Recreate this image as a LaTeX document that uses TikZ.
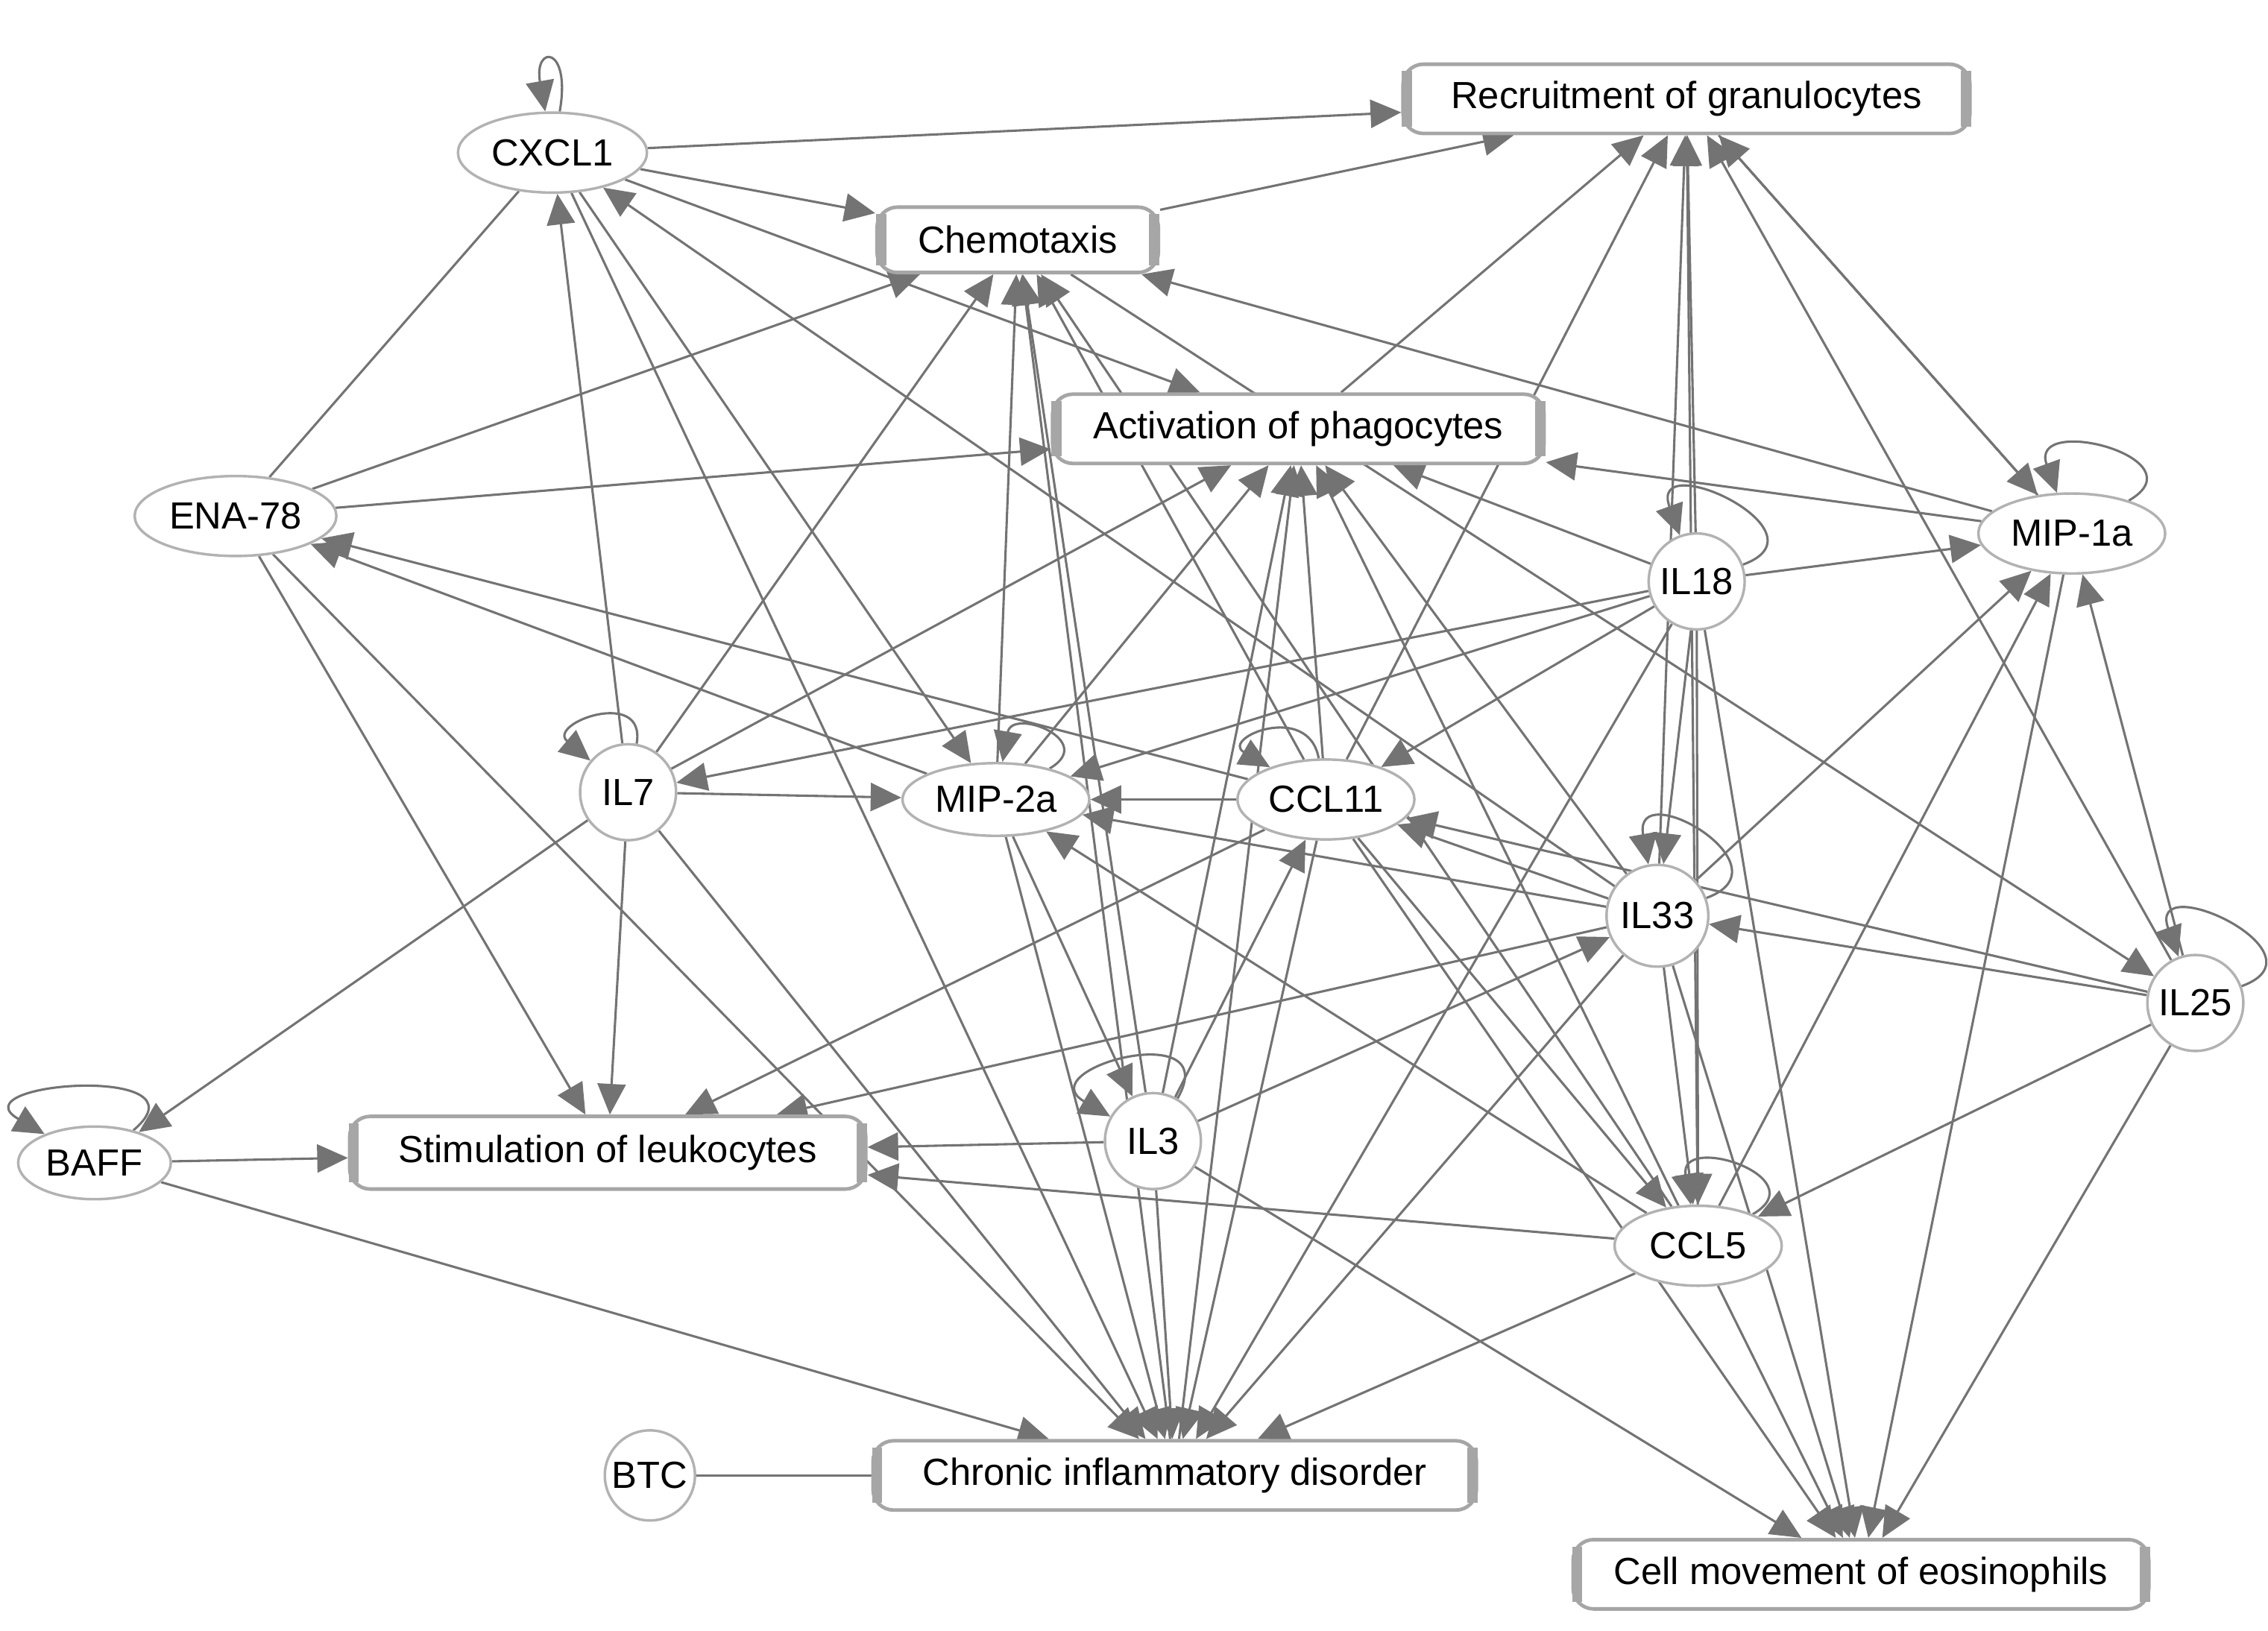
\documentclass[tikz,border=0pt]{standalone}
\usepackage{fontspec}
\setmainfont{Liberation Sans}
\usetikzlibrary{shapes.geometric,arrows.meta,calc}
\pgfdeclarelayer{back}
\pgfdeclarelayer{bg}
\pgfsetlayers{back,bg,main}
\begin{document}
\begin{tikzpicture}[
  every node/.style={font=\fontsize{7.4}{8}\selectfont},
  mol/.style={ellipse,draw=gray!60,line width=0.5pt,fill=white,inner sep=1pt},
  circ/.style={circle,draw=gray!60,line width=0.5pt,fill=white,minimum size=0.66cm,inner sep=0pt},
  fn/.style={rectangle,rounded corners=4pt,draw=gray!70,line width=0.7pt,fill=white,minimum height=0.45cm,inner xsep=8pt},
  ar/.style={draw=gray!90!black,line width=0.45pt,-{Triangle[length=6pt,width=5.5pt]},fill=gray!90!black},
  ln/.style={draw=gray!90!black,line width=0.45pt},
  lp/.style={ar}]
\begin{pgfonlayer}{back}
\fill[white] (0,0) rectangle (15.6,11.22);
\end{pgfonlayer}
\useasboundingbox (0,0) rectangle (15.6,11.22);
\node[mol,minimum width=1.3cm,minimum height=0.55cm] (CXCL1) at (3.80,10.17) {CXCL1};
\node[fn,minimum width=3.9cm] (Rec) at (11.60,10.54) {Recruitment of granulocytes};
\node[fn,minimum width=1.7cm] (Chem) at (7.00,9.57) {Chemotaxis};
\node[fn,minimum width=3.3cm] (Act) at (8.93,8.27) {Activation of phagocytes};
\node[mol,minimum width=1.25cm,minimum height=0.55cm] (ENA) at (1.62,7.67) {ENA-78};
\node[mol,minimum width=1.25cm,minimum height=0.55cm] (MIP1a) at (14.25,7.55) {MIP-1a};
\node[circ] (IL18) at (11.67,7.22) {IL18};
\node[circ] (IL7) at (4.32,5.77) {IL7};
\node[mol,minimum width=1.2cm,minimum height=0.5cm] (MIP2a) at (6.85,5.72) {MIP-2a};
\node[mol,minimum width=1.15cm,minimum height=0.55cm] (CCL11) at (9.12,5.72) {CCL11};
\node[circ,minimum size=0.7cm] (IL33) at (11.40,4.92) {IL33};
\node[circ] (IL25) at (15.10,4.32) {IL25};
\node[mol,minimum width=1.05cm,minimum height=0.5cm] (BAFF) at (0.65,3.22) {BAFF};
\node[fn,minimum width=3.55cm,minimum height=0.5cm] (Stim) at (4.18,3.29) {Stimulation of leukocytes};
\node[circ] (IL3) at (7.93,3.37) {IL3};
\node[mol,minimum width=1.15cm,minimum height=0.55cm] (CCL5) at (11.68,2.65) {CCL5};
\node[circ,minimum size=0.62cm] (BTC) at (4.47,1.07) {BTC};
\node[fn,minimum width=4.15cm] (Chr) at (8.08,1.07) {Chronic inflammatory disorder};
\node[fn,minimum width=3.85cm] (Eos) at (12.80,0.39) {Cell movement of eosinophils};
\foreach \n in {Rec,Chem,Act,Stim,Chr,Eos}{
  \draw[gray!70,line width=2pt] ($(\n.north west)+(0.04,-0.06)$) -- ($(\n.south west)+(0.04,0.06)$);
  \draw[gray!70,line width=2pt] ($(\n.north east)+(-0.04,-0.06)$) -- ($(\n.south east)+(-0.04,0.06)$);}
\begin{pgfonlayer}{bg}
\foreach \a/\b in {CXCL1/Rec,CXCL1/Chem,CXCL1/Act,CXCL1/MIP2a,CXCL1/Chr,
 IL7/CXCL1,ENA/Chem,ENA/Act,ENA/Stim,ENA/Chr,CCL11/ENA,MIP2a/ENA,
 IL7/MIP2a,IL7/Chem,IL7/Act,IL7/BAFF,IL7/Stim,IL7/Chr,
 MIP2a/Chem,MIP2a/Act,MIP2a/IL3,MIP2a/Chr,
 CCL11/MIP2a,CCL11/Chem,CCL11/Act,CCL11/Rec,CCL11/Stim,CCL11/CCL5,CCL11/Eos,CCL11/Chr,
 IL18/Rec,IL18/Act,IL18/MIP1a,IL18/CCL11,IL18/MIP2a,IL18/IL33,IL18/CCL5,IL18/Eos,IL18/Chr,IL18/IL7,
 MIP1a/Rec,Rec/MIP1a,MIP1a/Chem,MIP1a/Act,MIP1a/Eos,
 IL33/CCL11,IL33/MIP2a,IL33/MIP1a,IL33/Act,IL33/Rec,IL33/Stim,IL33/CCL5,IL33/Eos,IL33/Chr,IL33/CXCL1,IL3/IL33,
 IL25/IL33,IL25/MIP1a,IL25/Rec,IL25/CCL5,IL25/Eos,IL25/CCL11,Chem/IL25,
 IL3/Stim,IL3/CCL11,IL3/Act,IL3/Chem,IL3/Eos,IL3/Chr,
 CCL5/Stim,CCL5/Chr,CCL5/Eos,CCL5/MIP2a,CCL5/Act,CCL5/MIP1a,CCL5/Rec,CCL5/Chem,
 BAFF/Stim,BAFF/Chr,Chem/Rec,Act/Rec,Chr/Act,Chr/Chem}
 {\path[ar] (\a) -- (\b);}
\path[ln] (ENA) -- (CXCL1);
\path[ln] (BTC) -- (Chr);
\path[lp] (CXCL1) edge[out=80,in=100,looseness=12] (CXCL1);
\path[lp] (IL7) edge[out=80,in=140,looseness=3] (IL7);
\path[lp] (MIP2a) edge[out=30,in=80,looseness=3] (MIP2a);
\path[lp] (CCL11) edge[out=100,in=150,looseness=3] (CCL11);
\path[lp] (IL18) edge[out=20,in=110,looseness=3.5] (IL18);
\path[lp] (MIP1a) edge[out=30,in=110,looseness=3] (MIP1a);
\path[lp] (IL33) edge[out=20,in=100,looseness=3.5] (IL33);
\path[lp] (IL25) edge[out=20,in=110,looseness=3.5] (IL25);
\path[lp] (IL3) edge[out=60,in=150,looseness=3.5] (IL3);
\path[lp] (CCL5) edge[out=30,in=100,looseness=3] (CCL5);
\path[lp] (BAFF) edge[out=40,in=150,looseness=3] (BAFF);
\end{pgfonlayer}
\end{tikzpicture}
\end{document}
